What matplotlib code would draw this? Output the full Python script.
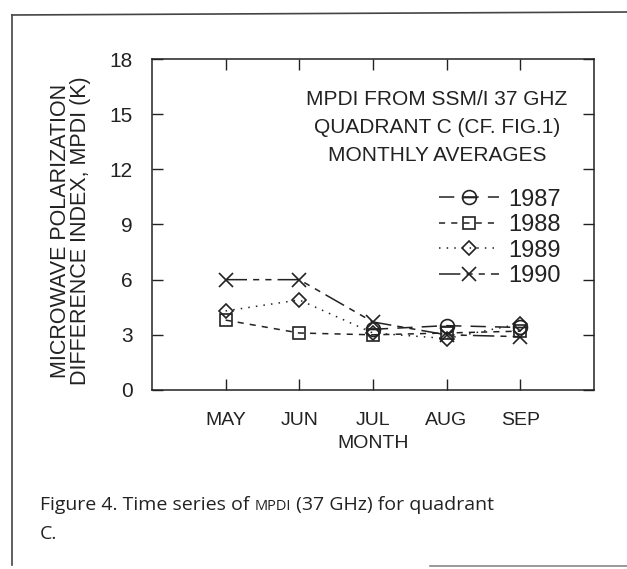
import matplotlib
matplotlib.use("Agg")
import matplotlib.pyplot as plt
from matplotlib.lines import Line2D
from matplotlib.path import Path
import numpy as np

months = ["MAY", "JUN", "JUL", "AUG", "SEP"]
yr1987 = [np.nan, np.nan, 3.3, 3.5, 3.4]
yr1988 = [3.8, 3.1, 3.0, 3.1, 3.2]
yr1989 = [4.3, 4.9, 3.1, 2.8, 3.6]
yr1990 = [6.0, 6.0, 3.7, 3.0, 2.9]
yticks = [0, 3, 6, 9, 12, 15, 18]

FONT = ["Liberation Sans", "DejaVu Sans"]
plt.rcParams["font.family"] = FONT
INK = "#222222"

fig = plt.figure(figsize=(6.27, 5.69), dpi=100)
ax = fig.add_axes([0.2424, 0.3146, 0.7046, 0.5817])

# circle with horizontal bar marker
circ = Path.unit_circle()
bar = Path([(-1, 0), (1, 0)], [Path.MOVETO, Path.LINETO])
theta = Path.make_compound_path(circ, bar)

x = np.arange(1, len(months) + 1)
kw = dict(color=INK, lw=1.1, markerfacecolor="none",
          markeredgecolor=INK, markeredgewidth=1.2)
ax.plot(x, yr1987, linestyle=(0, (10, 6)), marker=theta, markersize=10, label="1987", **kw)
ax.plot(x, yr1988, linestyle=(0, (4, 4)), marker="s", markersize=9, label="1988", **kw)
ax.plot(x, yr1989, linestyle=(0, (1, 4)), marker="D", markersize=7, label="1989", **kw)
ax.plot(x, yr1990, linestyle=(0, (14, 4, 4, 4, 4, 4)), marker="x", markersize=10,
        label="1990", **kw)

ax.set_xlim(0, 6)
ax.set_ylim(0, 18)
ax.set_xticks(x)
ax.set_xticklabels(months, fontsize=14)
ax.set_yticks(yticks)
ax.set_yticklabels([str(t) for t in yticks], fontsize=15)
ax.tick_params(direction="in", length=8, width=1, top=True, right=True, colors=INK)
ax.tick_params(axis="x", pad=16)
ax.tick_params(axis="y", pad=14)
for s in ax.spines.values():
    s.set_linewidth(1.1)
    s.set_color(INK)

ax.set_xlabel("MONTH", fontsize=14, labelpad=4, color=INK)
ax.set_ylabel("MICROWAVE POLARIZATION\nDIFFERENCE INDEX, MPDI (K)", fontsize=15.5,
              linespacing=0.95, color=INK)
ax.yaxis.set_label_coords(-0.138, 0.48)

ax.text(0.645, 0.793, "MPDI FROM SSM/I 37 GHZ\nQUADRANT C (CF. FIG.1)\nMONTHLY AVERAGES",
        transform=ax.transAxes, ha="center", va="center", fontsize=15,
        multialignment="center", linespacing=1.6, color=INK)

leg = ax.legend(loc="upper right", bbox_to_anchor=(0.948, 0.637), frameon=False,
                fontsize=17, handlelength=2.55, handletextpad=0.42,
                labelspacing=0.15, borderaxespad=0)
for t in leg.get_texts():
    t.set_color(INK)

# page frame
fig.add_artist(Line2D([12 / 627, 12 / 627], [1 - 565 / 569, 1 - 15 / 569],
                      transform=fig.transFigure, color="#444444", lw=1.2))
fig.add_artist(Line2D([12 / 627, 1.0], [1 - 15 / 569, 1 - 12 / 569],
                      transform=fig.transFigure, color="#444444", lw=1.2))
fig.add_artist(Line2D([430 / 627, 1.0], [1 - 566 / 569, 1 - 566 / 569],
                      transform=fig.transFigure, color="#888888", lw=1.2))

# caption
cap_font = ["Open Sans", "DejaVu Sans"]
fig.canvas.draw()
r = fig.canvas.get_renderer()
x0 = 40 / 627
yb = 1 - 510 / 569
parts = [("Figure 4. Time series of ", 14), ("MPDI", 10.5), (" (37 GHz) for quadrant", 14)]
cx = x0
for txt, fs in parts:
    t = fig.text(cx, yb, txt, fontsize=fs, family=cap_font, va="baseline",
                 ha="left", color=INK)
    bb = t.get_window_extent(renderer=r)
    cx += bb.width / fig.bbox.width
fig.text(x0, 1 - 539 / 569, "C.", fontsize=14, family=cap_font, va="baseline",
         ha="left", color=INK)

fig.savefig("out.png", dpi=100)
